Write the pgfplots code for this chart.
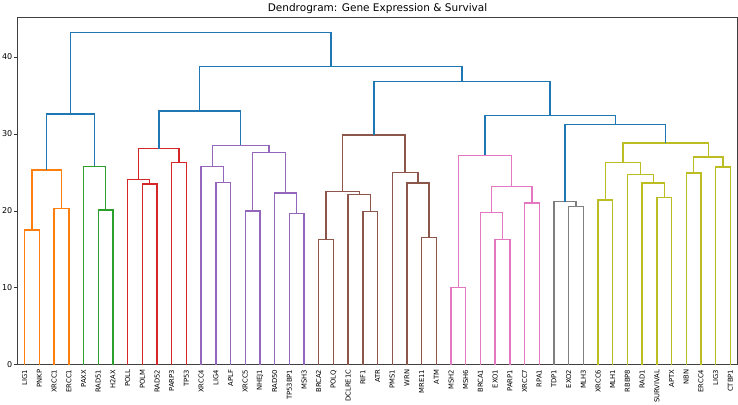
\documentclass[border=0pt]{standalone}
\usepackage{pgfplots}
\pgfplotsset{compat=1.18}
\usepackage{fontspec}
\setmainfont{DejaVu Sans}
\definecolor{cblue}{HTML}{1F77B4}
\definecolor{corange}{HTML}{FF7F0E}
\definecolor{cgreen}{HTML}{2CA02C}
\definecolor{cred}{HTML}{D62728}
\definecolor{cpurple}{HTML}{9467BD}
\definecolor{cbrown}{HTML}{8C564B}
\definecolor{cpink}{HTML}{E377C2}
\definecolor{cgray}{HTML}{7F7F7F}
\definecolor{colive}{HTML}{BCBD22}
\begin{document}
\begin{tikzpicture}
\begin{axis}[
  scale only axis, width=717bp, height=346bp,
  xmin=0, xmax=490, ymin=0, ymax=45.2,
  xtick={5,15,...,485},
  xticklabels={LIG1,PNKP,XRCC1,ERCC1,PAXX,RAD51,H2AX,POLL,POLM,RAD52,PARP3,TP53,XRCC4,LIG4,APLF,XRCC5,NHEJ1,RAD50,TP53BP1,MSH3,BRCA2,POLQ,DCLRE1C,RIF1,ATR,PMS1,WRN,MRE11,ATM,MSH2,MSH6,BRCA1,EXO1,PARP1,XRCC7,RPA1,TDP1,EXO2,MLH3,XRCC6,MLH1,RBBP8,RAD1,SURVIVAL,APTX,NBN,ERCC4,LIG3,CTBP1},
  xticklabel style={rotate=90, anchor=east, font=\fontsize{6.8}{7}\selectfont, inner sep=2pt},
  xtick style={draw=none},
  ytick={0,10,20,30,40},
  yticklabel style={font=\fontsize{8}{9}\selectfont, inner sep=2pt},
  /pgf/number format/assume math mode=true,
  tick align=outside, major tick length=3bp,
  ytick style={black!80, line width=0.5pt},
  xtick pos=bottom, ytick pos=left,
  axis line style={black!75, line width=0.6pt},
  title={Dendrogram: Gene Expression \& Survival},
  title style={font=\fontsize{10.5}{12}\selectfont, yshift=-6pt},
  every axis plot/.append style={line width=1.35pt, mark=none},
]
% orange
\addplot[corange] coordinates {(5,0)(5,17.5)(15,17.5)(15,0)};
\addplot[corange] coordinates {(25,0)(25,20.3)(35,20.3)(35,0)};
\addplot[corange] coordinates {(10,17.5)(10,25.3)(30,25.3)(30,20.3)};
% green
\addplot[cgreen] coordinates {(55,0)(55,20.1)(65,20.1)(65,0)};
\addplot[cgreen] coordinates {(45,0)(45,25.8)(60,25.8)(60,20.1)};
% red
\addplot[cred] coordinates {(85,0)(85,23.5)(95,23.5)(95,0)};
\addplot[cred] coordinates {(75,0)(75,24.1)(90,24.1)(90,23.5)};
\addplot[cred] coordinates {(105,0)(105,26.3)(115,26.3)(115,0)};
\addplot[cred] coordinates {(82.5,24.1)(82.5,28.1)(110,28.1)(110,26.3)};
% purple
\addplot[cpurple] coordinates {(135,0)(135,23.7)(145,23.7)(145,0)};
\addplot[cpurple] coordinates {(125,0)(125,25.8)(140,25.8)(140,23.7)};
\addplot[cpurple] coordinates {(155,0)(155,20.0)(165,20.0)(165,0)};
\addplot[cpurple] coordinates {(185,0)(185,19.65)(195,19.65)(195,0)};
\addplot[cpurple] coordinates {(175,0)(175,22.3)(190,22.3)(190,19.65)};
\addplot[cpurple] coordinates {(160,20.0)(160,27.6)(182.5,27.6)(182.5,22.3)};
\addplot[cpurple] coordinates {(132.5,25.8)(132.5,28.5)(171.25,28.5)(171.25,27.6)};
% brown
\addplot[cbrown] coordinates {(205,0)(205,16.25)(215,16.25)(215,0)};
\addplot[cbrown] coordinates {(235,0)(235,19.9)(245,19.9)(245,0)};
\addplot[cbrown] coordinates {(225,0)(225,22.1)(240,22.1)(240,19.9)};
\addplot[cbrown] coordinates {(210,16.25)(210,22.5)(232.5,22.5)(232.5,22.1)};
\addplot[cbrown] coordinates {(275,0)(275,16.55)(285,16.55)(285,0)};
\addplot[cbrown] coordinates {(265,0)(265,23.6)(280,23.6)(280,16.55)};
\addplot[cbrown] coordinates {(255,0)(255,25.0)(272.5,25.0)(272.5,23.6)};
\addplot[cbrown] coordinates {(221.25,22.5)(221.25,29.85)(263.75,29.85)(263.75,25.0)};
% pink
\addplot[cpink] coordinates {(295,0)(295,10.0)(305,10.0)(305,0)};
\addplot[cpink] coordinates {(325,0)(325,16.25)(335,16.25)(335,0)};
\addplot[cpink] coordinates {(315,0)(315,19.8)(330,19.8)(330,16.25)};
\addplot[cpink] coordinates {(345,0)(345,21.0)(355,21.0)(355,0)};
\addplot[cpink] coordinates {(322.5,19.8)(322.5,23.2)(350,23.2)(350,21.0)};
\addplot[cpink] coordinates {(300,10.0)(300,27.2)(336.25,27.2)(336.25,23.2)};
% gray
\addplot[cgray] coordinates {(375,0)(375,20.6)(385,20.6)(385,0)};
\addplot[cgray] coordinates {(365,0)(365,21.2)(380,21.2)(380,20.6)};
% olive
\addplot[colive] coordinates {(395,0)(395,21.4)(405,21.4)(405,0)};
\addplot[colive] coordinates {(435,0)(435,21.75)(445,21.75)(445,0)};
\addplot[colive] coordinates {(425,0)(425,23.6)(440,23.6)(440,21.75)};
\addplot[colive] coordinates {(415,0)(415,24.7)(432.5,24.7)(432.5,23.6)};
\addplot[colive] coordinates {(400,21.4)(400,26.3)(423.75,26.3)(423.75,24.7)};
\addplot[colive] coordinates {(455,0)(455,24.9)(465,24.9)(465,0)};
\addplot[colive] coordinates {(475,0)(475,25.7)(485,25.7)(485,0)};
\addplot[colive] coordinates {(460,24.9)(460,27.0)(480,27.0)(480,25.7)};
\addplot[colive] coordinates {(411.875,26.3)(411.875,28.8)(470,28.8)(470,27.0)};
% blue (above threshold)
\addplot[cblue] coordinates {(20,25.3)(20,32.6)(52.5,32.6)(52.5,25.8)};
\addplot[cblue] coordinates {(96.25,28.1)(96.25,33.0)(151.875,33.0)(151.875,28.5)};
\addplot[cblue] coordinates {(372.5,21.2)(372.5,31.2)(440.9375,31.2)(440.9375,28.8)};
\addplot[cblue] coordinates {(318.125,27.2)(318.125,32.4)(406.71875,32.4)(406.71875,31.2)};
\addplot[cblue] coordinates {(242.5,29.85)(242.5,36.8)(362.421875,36.8)(362.421875,32.4)};
\addplot[cblue] coordinates {(124.0625,33.0)(124.0625,38.8)(302.4609375,38.8)(302.4609375,36.8)};
\addplot[cblue] coordinates {(36.25,32.6)(36.25,43.15)(213.26171875,43.15)(213.26171875,38.8)};
\end{axis}
\end{tikzpicture}
\end{document}
